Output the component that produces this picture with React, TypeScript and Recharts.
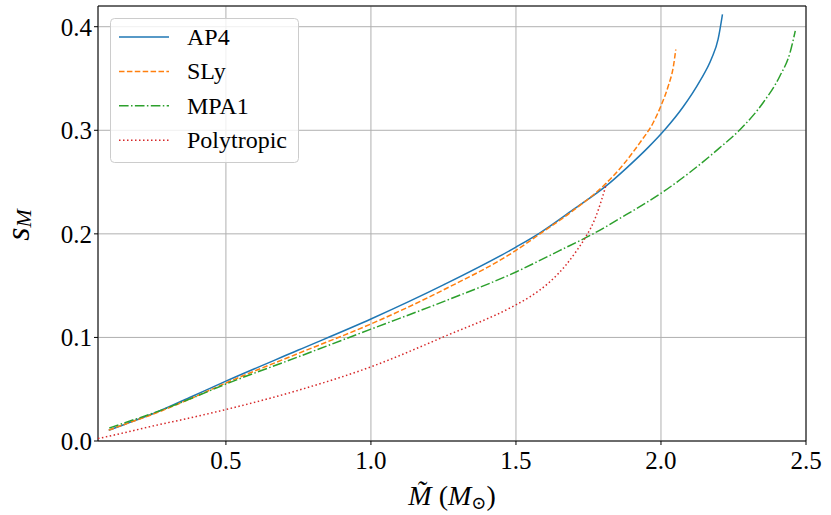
import React from 'react';
import { LineChart, Line, XAxis, YAxis, CartesianGrid, Legend, ReferenceArea } from 'recharts';

// ---- data ----
const AP4_MASS = [0.096, 0.15, 0.25, 0.375, 0.5, 0.75, 1.0, 1.25, 1.5, 1.583, 1.697, 1.812, 1.881, 1.956, 2.013, 2.076, 2.134, 2.174, 2.197, 2.212];
const AP4_SM = [0.0104, 0.016, 0.0265, 0.042, 0.0578, 0.0878, 0.1178, 0.1507, 0.1872, 0.201, 0.2233, 0.2465, 0.2635, 0.2835, 0.3005, 0.3225, 0.3475, 0.369, 0.388, 0.412];

const SLY_MASS = [0.096, 0.15, 0.25, 0.375, 0.5, 0.75, 1.0, 1.25, 1.5, 1.583, 1.69, 1.812, 1.87, 1.927, 1.973, 2.002, 2.025, 2.043, 2.051];
const SLY_SM = [0.0105, 0.016, 0.026, 0.0405, 0.056, 0.0846, 0.113, 0.1459, 0.184, 0.200, 0.221, 0.2492, 0.2669, 0.2879, 0.3073, 0.325, 0.3427, 0.362, 0.378];

const MPA1_MASS = [0.098, 0.15, 0.25, 0.375, 0.5, 0.75, 1.0, 1.25, 1.5, 1.65, 1.766, 1.88, 2.002, 2.1, 2.2, 2.273, 2.352, 2.41, 2.445, 2.463];
const MPA1_SM = [0.0125, 0.0175, 0.027, 0.0405, 0.055, 0.0813, 0.108, 0.1346, 0.1632, 0.1838, 0.200, 0.2185, 0.2395, 0.2595, 0.2825, 0.3008, 0.3266, 0.3524, 0.375, 0.396];

const POLY_MASS = [0.059, 0.15, 0.25, 0.375, 0.5, 0.75, 1.0, 1.25, 1.5, 1.548, 1.617, 1.669, 1.709, 1.743, 1.772, 1.795, 1.812];
const POLY_SM = [0.0023, 0.008, 0.0146, 0.0222, 0.0304, 0.049, 0.0716, 0.1005, 0.1315, 0.1392, 0.1537, 0.1688, 0.1836, 0.1982, 0.2142, 0.2326, 0.2484];

const SERIES_NAMES = ['AP4', 'SLy', 'MPA1', 'Polytropic'];
const X_TICKS = [0.5, 1.0, 1.5, 2.0, 2.5];
const Y_TICKS = [0.0, 0.1, 0.2, 0.3, 0.4];

const zip = (xs: number[], ys: number[]) => xs.map((m, i) => ({ m, s: ys[i] }));

const FONT = '"Liberation Serif", "DejaVu Serif", serif';

const series = [
  { name: SERIES_NAMES[0], data: zip(AP4_MASS, AP4_SM), color: '#1f77b4', dash: undefined as string | undefined },
  { name: SERIES_NAMES[1], data: zip(SLY_MASS, SLY_SM), color: '#ff7f0e', dash: '5.5 2.4' },
  { name: SERIES_NAMES[2], data: zip(MPA1_MASS, MPA1_SM), color: '#2ca02c', dash: '9.6 2.4 1.5 2.4' },
  { name: SERIES_NAMES[3], data: zip(POLY_MASS, POLY_SM), color: '#d62728', dash: '1.5 2.5' },
];

const LegendBox = () => (
  <svg width={190} height={146} style={{ display: 'block' }}>
    <rect x={0.5} y={0.5} width={188} height={144} rx={4} ry={4} fill="rgba(255,255,255,0.8)" stroke="#cccccc" strokeWidth={1} />
    {series.map((s, i) => {
      const cy = 19 + i * 34.4;
      return (
        <g key={s.name}>
          <line x1={9} x2={59} y1={cy} y2={cy} stroke={s.color} strokeWidth={1.5} strokeDasharray={s.dash} />
          <text x={77} y={cy} dominantBaseline="central" fontFamily={FONT} fontSize={24} fill="#000">{s.name}</text>
        </g>
      );
    })}
  </svg>
);

const XLabel = () => (
  <text x={452} y={505} textAnchor="middle" fontFamily={FONT} fontSize={28} fill="#000">
    <tspan fontStyle="italic">M&#771;</tspan>
    <tspan> (</tspan>
    <tspan fontStyle="italic">M</tspan>
    <tspan fontSize={18} dy={4}>⊙</tspan>
    <tspan dy={-4}>)</tspan>
  </text>
);

const YLabel = () => (
  <text x={29} y={225} transform="rotate(-90 29 225)" textAnchor="middle" fontFamily={FONT} fill="#000">
    <tspan fontStyle="italic" fontSize={34}>s</tspan>
    <tspan fontStyle="italic" fontSize={22} dy={2}>M</tspan>
  </text>
);

export default function App() {
  return (
    <div style={{ position: 'absolute', left: 0, top: 0, width: 831, height: 515, background: '#fff' }}>
      <LineChart width={831} height={515} margin={{ top: 6, right: 25, bottom: 0, left: 0 }}>
        <CartesianGrid stroke="#b0b0b0" strokeWidth={1} />
        <XAxis
          type="number"
          dataKey="m"
          domain={[0.059, 2.5]}
          ticks={X_TICKS}
          allowDataOverflow
          tickFormatter={(v: number) => v.toFixed(1)}
          height={74}
          tickSize={4}
          tickMargin={6}
          axisLine={false}
          tickLine={{ stroke: '#000' }}
          tick={{ fill: '#000', fontSize: 25, fontFamily: FONT }}
          label={{ content: () => <XLabel /> }}
        />
        <YAxis
          type="number"
          dataKey="s"
          domain={[0, 0.42]}
          ticks={Y_TICKS}
          allowDataOverflow
          tickFormatter={(v: number) => v.toFixed(1)}
          width={98}
          tickSize={4}
          tickMargin={2}
          axisLine={false}
          tickLine={{ stroke: '#000' }}
          tick={{ fill: '#000', fontSize: 25, fontFamily: FONT }}
          label={{ content: () => <YLabel /> }}
        />
        {series.map((s) => (
          <Line
            key={s.name}
            name={s.name}
            data={s.data}
            dataKey="s"
            type="monotone"
            stroke={s.color}
            strokeWidth={1.5}
            strokeDasharray={s.dash}
            dot={false}
            activeDot={false}
            isAnimationActive={false}
          />
        ))}
        <ReferenceArea x1={0.059} x2={2.5} y1={0} y2={0.42} fill="none" stroke="#000" strokeWidth={1} ifOverflow="extendDomain" />
        <Legend
          layout="vertical"
          align="center"
          verticalAlign="middle"
          wrapperStyle={{ position: 'absolute', left: 110, top: 18, width: 190, height: 146 }}
          content={() => <LegendBox />}
        />
      </LineChart>
    </div>
  );
}
